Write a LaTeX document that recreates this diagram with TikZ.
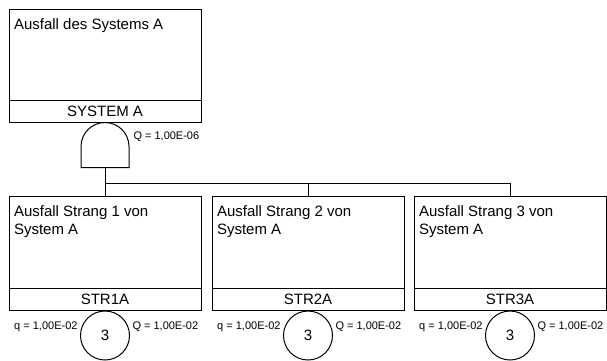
\documentclass[tikz,border=0pt]{standalone}
\usepackage{fontspec}
\setmainfont{Liberation Sans}
\begin{document}
\begin{tikzpicture}[x=1pt,y=-1pt,line width=1pt,
  evbox/.style={draw, minimum width=192pt, minimum height=114pt, inner sep=0pt},
  ttl/.style={anchor=north west, align=left, font=\fontsize{15}{18}\selectfont, inner sep=0pt},
  idl/.style={font=\fontsize{15}{15}\selectfont, inner sep=0pt},
  qlab/.style={font=\fontsize{11}{11}\selectfont, inner sep=0pt},
  basic/.style={draw, circle, minimum size=49pt, inner sep=0pt, font=\fontsize{15}{15}\selectfont, anchor=north}]
\useasboundingbox (0,0) rectangle (607,360);

% top event
\node[evbox, minimum height=113pt] (sys) at (105,65.5) {};
\draw ([yshift=22pt]sys.south west) -- ([yshift=22pt]sys.south east);
\node[ttl] (systxt) at ([xshift=5pt,yshift=-10pt]sys.north west) {Ausfall des Systems A};
\node[idl] (sysid) at ([yshift=11pt]sys.south) {SYSTEM A};

% AND gate
\coordinate (gin) at (sys.south);
\coordinate (gout) at ([yshift=-45pt]sys.south);
\draw ([xshift=-24pt,yshift=-45pt]sys.south) -- ([xshift=-24pt,yshift=-24pt]sys.south)
  arc[start angle=180, end angle=0, radius=24pt] -- ([xshift=24pt,yshift=-45pt]sys.south) -- cycle;
\node[qlab, anchor=west] (gq) at (133,137) {Q = 1,00E-06};

% branch events
\node[evbox] (s1) at (105,253) {};
\node[evbox] (s2) at (308,253) {};
\node[evbox] (s3) at (510,253) {};
\coordinate (bus) at (106,183);

\draw (gout) -- (s1.north);
\draw (bus) -| (s3.north);
\draw (s2.north) -- (s2.north |- bus);

\foreach \i in {1,2,3}{
  \draw ([yshift=22pt]s\i.south west) -- ([yshift=22pt]s\i.south east);
  \node[ttl] (t\i) at ([xshift=5pt,yshift=-10pt]s\i.north west) {Ausfall Strang \i\ von\\System A};
  \node[idl] (id\i) at ([yshift=11pt]s\i.south) {STR\i A};
  \node[basic] (c\i) at (s\i.south) {3};
  \node[qlab, anchor=east] (ql\i) at ([xshift=-2pt,yshift=9pt]c\i.west) {q = 1,00E-02};
  \node[qlab, anchor=west] (qr\i) at ([xshift=2pt,yshift=9pt]c\i.east) {Q = 1,00E-02};
}
\end{tikzpicture}
\end{document}
